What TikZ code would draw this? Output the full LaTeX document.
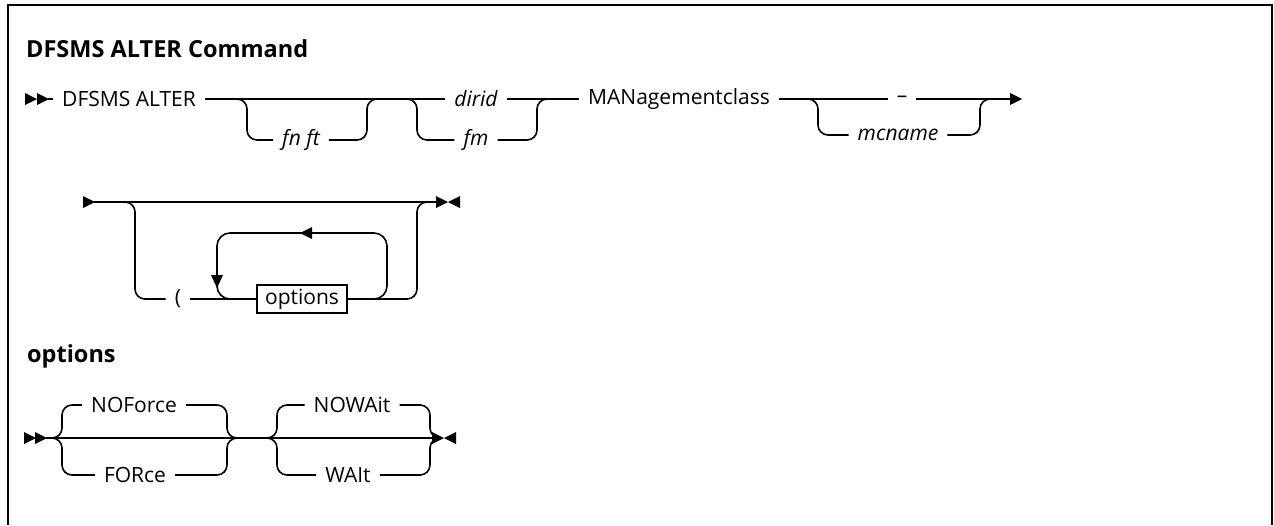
\documentclass[tikz,border=0pt]{standalone}
\usepackage{fontspec}
\setmainfont{Open Sans}
\usetikzlibrary{calc}
\tikzset{
  rail/.style={line width=1.6pt},
  branch/.style={line width=1.6pt, rounded corners=10pt},
  frame/.style={line width=2pt},
  lbl/.style={inner xsep=9pt, inner ysep=0pt, font=\fontsize{21}{25}\selectfont},
  ilbl/.style={inner xsep=9pt, inner ysep=0pt, font=\fontsize{21}{25}\selectfont\itshape},
  head/.style={inner sep=0pt, font=\fontsize{23.5}{28}\selectfont\bfseries, anchor=base west},
  optbox/.style={draw, line width=1.6pt, minimum width=90pt, minimum height=28pt, inner sep=0pt, font=\fontsize{21}{25}\selectfont}
}
\newcommand{\tipR}[1]{\fill #1 -- ++(-12,-6) -- ++(0,12) -- cycle;}
\newcommand{\tipL}[1]{\fill #1 -- ++(12,-6) -- ++(0,12) -- cycle;}
\newcommand{\tipD}[1]{\fill #1 -- ++(-6,-13) -- ++(12,0) -- cycle;}
\begin{document}
\begin{tikzpicture}[x=1pt,y=-1pt]
\useasboundingbox (0,0) rectangle (1274,525);
% frame
\draw[frame] (8,525) -- (8,5) -- (1272,5) -- (1272,525);
% headings
\node[head] (title) at (26,57) {DFSMS ALTER Command};
\node[head] (opthead) at (27,362) {options};

% ---------- row 1 ----------
\coordinate (s1) at (48,99);
\tipR{(37,99)} \tipR{(49,99)}
\node[lbl, anchor=west] (n1) at (53,99) {DFSMS ALTER};
\node[ilbl] (fnft) at (301,140) {fn ft};
\node[ilbl] (dirid) at (476,99) {dirid};
\node[ilbl] (fm) at (476,140) {fm};
\node[lbl, anchor=west] (man) at (579,99) {MANagementclass};
\node[lbl] (dash) at (902,99) {–};
\node[ilbl] (mcname) at (898,135) {mcname};
\coordinate (e1) at (1011,99);
\draw[rail] (s1) -- (n1.west);
\draw[rail] (n1.east) -- (dirid.west);
\draw[rail] (dirid.east) -- (man.west);
\draw[rail] (man.east) -- (dash.west);
\draw[rail] (dash.east) -- (e1);
\tipR{(1022,99)}
% bracket 1
\coordinate (b1a) at (247,99);
\coordinate (b1b) at (367,99);
\draw[branch] ($(b1a)+(-10,0)$) -- (b1a) |- (fnft.west);
\draw[branch] (fnft.east) -| (b1b) -- ++(10,0);
% bracket 2
\coordinate (b2a) at (417,99);
\coordinate (b2b) at (537,99);
\draw[branch] ($(b2a)+(-10,0)$) -- (b2a) |- (fm.west);
\draw[branch] (fm.east) -| (b2b) -- ++(10,0);
% bracket 3
\coordinate (b3a) at (818,99);
\coordinate (b3b) at (980,99);
\draw[branch] ($(b3a)+(-10,0)$) -- (b3a) |- (mcname.west);
\draw[branch] (mcname.east) -| (b3b) -- ++(10,0);

% ---------- row 2 ----------
\tipR{(95,202)}
\coordinate (s2) at (94,202);
\coordinate (e2) at (438,202);
\draw[rail] (s2) -- (e2);
\tipR{(448,202)} \tipL{(448,202)}
\node[lbl] (paren) at (178,299) {(};
\node[optbox] (obox) at (302,299) {options};
\coordinate (b4a) at (135,202);
\coordinate (b4b) at (417,202);
\draw[branch] ($(b4a)+(-10,0)$) -- (b4a) |- (paren.west);
\draw[rail] (paren.east) -- (obox.west);
\draw[branch] (obox.east) -| (b4b) -- ++(10,0);
% repeat loop
\coordinate (lpA) at (217,233);
\coordinate (lpB) at (387,233);
\draw[branch, rounded corners=13pt] ($(obox.west)+(-18,0)$) -| (lpA) -- (lpB) |- ($(obox.east)+(18,0)$);
\tipL{(300,233)}
\tipD{(217,288)}

% ---------- row 4 ----------
\tipR{(36,438)} \tipR{(47,438)}
\coordinate (s4) at (46,438);
\coordinate (e4) at (434,438);
\draw[rail] (s4) -- (e4);
\tipR{(444,438)} \tipL{(444,438)}
\node[lbl] (noforce) at (134,405) {NOForce};
\node[lbl] (force) at (135,475) {FORce};
\node[lbl] (nowait) at (352,405) {NOWAit};
\node[lbl] (wait) at (348,475) {WAIt};
\coordinate (c1l) at (62,438);
\coordinate (c1r) at (227,438);
\coordinate (c2l) at (277,438);
\coordinate (c2r) at (430,438);
\draw[branch] ($(c1l)+(-12,0)$) -- (c1l) |- (noforce.west);
\draw[branch] ($(c1l)+(-12,0)$) -- (c1l) |- (force.west);
\draw[branch] (noforce.east) -| (c1r) -- ++(10,0);
\draw[branch] (force.east) -| (c1r) -- ++(10,0);
\draw[branch] ($(c2l)+(-12,0)$) -- (c2l) |- (nowait.west);
\draw[branch] ($(c2l)+(-12,0)$) -- (c2l) |- (wait.west);
\draw[branch] (nowait.east) -| (c2r) -- ++(4,0);
\draw[branch] (wait.east) -| (c2r) -- ++(4,0);
\end{tikzpicture}
\end{document}
